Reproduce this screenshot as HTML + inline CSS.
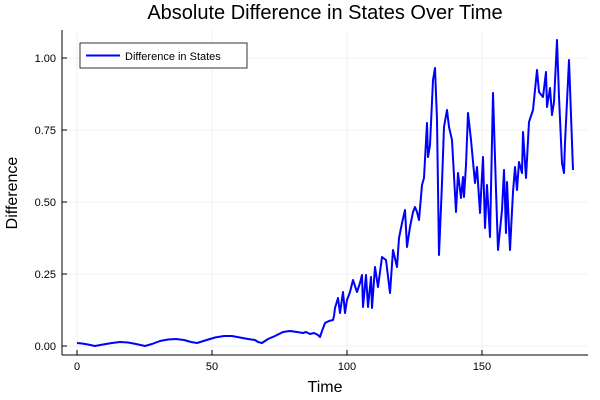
<!DOCTYPE html>
<html><head><meta charset="utf-8"><style>body{margin:0;background:#fff}svg{display:block}</style></head><body>
<svg width="600" height="400" xmlns="http://www.w3.org/2000/svg" font-family="Liberation Sans, sans-serif">
<rect width="600" height="400" fill="#fff"/>
<g stroke="#000" stroke-opacity="0.1" stroke-width="0.5">
<line x1="77" y1="30" x2="77" y2="355"/><line x1="212" y1="30" x2="212" y2="355"/><line x1="347" y1="30" x2="347" y2="355"/><line x1="482" y1="30" x2="482" y2="355"/>
<line x1="62" y1="346" x2="588" y2="346"/><line x1="62" y1="274" x2="588" y2="274"/><line x1="62" y1="202" x2="588" y2="202"/><line x1="62" y1="130" x2="588" y2="130"/><line x1="62" y1="58" x2="588" y2="58"/>
</g>
<g stroke="#000" stroke-width="1">
<line x1="62" y1="355" x2="588" y2="355"/><line x1="62" y1="30" x2="62" y2="355"/>
<line x1="77" y1="355" x2="77" y2="350"/><line x1="212" y1="355" x2="212" y2="350"/><line x1="347" y1="355" x2="347" y2="350"/><line x1="482" y1="355" x2="482" y2="350"/>
<line x1="62" y1="346" x2="67" y2="346"/><line x1="62" y1="274" x2="67" y2="274"/><line x1="62" y1="202" x2="67" y2="202"/><line x1="62" y1="130" x2="67" y2="130"/><line x1="62" y1="58" x2="67" y2="58"/>
</g>
<g font-size="11" fill="#000">
<text x="77" y="370" text-anchor="middle">0</text><text x="212" y="370" text-anchor="middle">50</text><text x="347" y="370" text-anchor="middle">100</text><text x="482" y="370" text-anchor="middle">150</text>
<g text-anchor="end"><text x="56" y="350">0.00</text><text x="56" y="278">0.25</text><text x="56" y="206">0.50</text><text x="56" y="134">0.75</text><text x="56" y="62">1.00</text></g>
</g>
<text x="325" y="19" font-size="20" text-anchor="middle">Absolute Difference in States Over Time</text>
<text x="325" y="392" font-size="16" text-anchor="middle">Time</text>
<text x="17" y="193" font-size="16" text-anchor="middle" transform="rotate(-90 17 193)">Difference</text>
<polyline fill="none" stroke="#00f" stroke-width="2" stroke-linejoin="round" points="77,343 82,343.5 88,344.5 95,346 103,344.5 112,343 120,342 128,342.5 136,344 145,346 152,344 160,341 168,339.5 176,339 184,340 191,342 197,343 205,340.5 215,337.5 224,336 232,336 240,337.5 248,339 255,340 258,342 262,343 268,339 275,336 283,332 290,331 297,332 303,333 306,332 310,334 314,333 318,335 320,337 322,331 325,323 329,321 333,320 334,316 335,308 338,298 340,313 343,292 345,313 347,300 350,292 353,280 357,292 360,283 362,275 363,307 366,275 368,307 371,277 372,308 375,267 378,287 382,257 386,260 390,293 393,250 397,267 399,238 402,223 405,210 407,247 410,227 413,212 415,207 417,212 419,220 422,185 424,178 427,123 428,157 430,145 433,80 435,68 437,120 439,255 442,183 444,127 447,110 449,127 452,140 456,212 458,173 461,198 463,177 464,197 466,165 468,113 471,140 475,183 477,167 480,213 483,157 485,228 487,185 490,237 493,93 496,190 498,250 502,210 504,170 506,233 507,182 510,250 513,192 515,167 517,190 519,162 522,173 523,132 526,178 529,122 533,110 537,70 539,92 543,97 546,72 547,107 550,88 552,115 554,102 557,40 559,97 562,163 564,173 565,143 569,60 573,170"/>
<rect x="80" y="43" width="167" height="25" fill="#fff" stroke="#000" stroke-width="0.8"/>
<line x1="86" y1="55.5" x2="120" y2="55.5" stroke="#00f" stroke-width="2"/>
<text x="125" y="60" font-size="11">Difference in States</text>
</svg>
</body></html>
